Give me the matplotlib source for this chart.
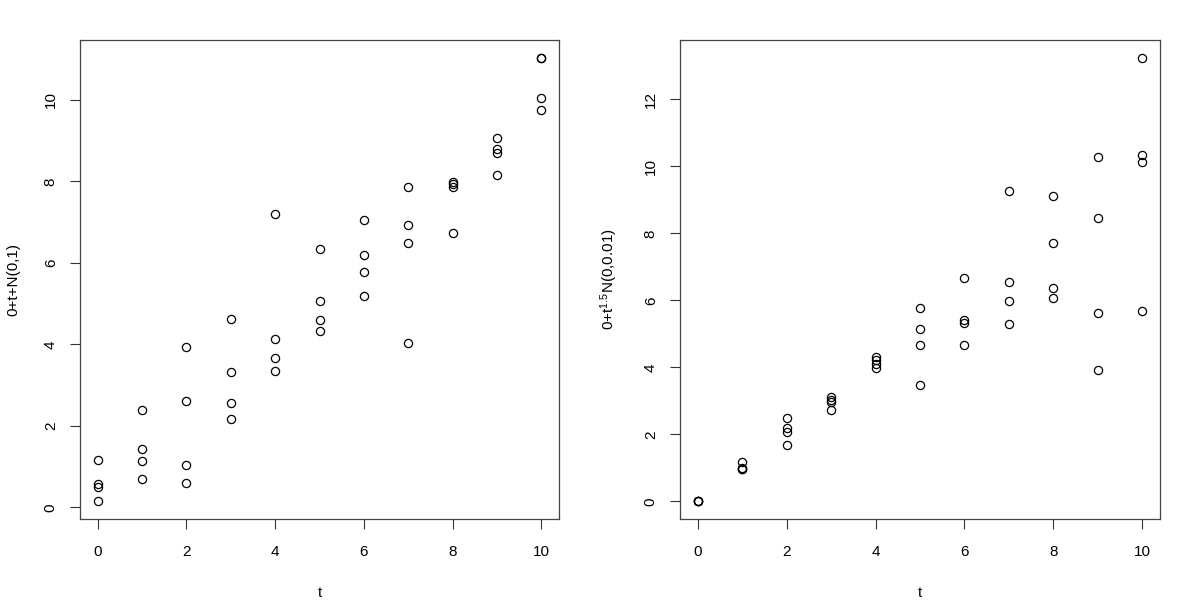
import matplotlib
matplotlib.use("Agg")
import matplotlib.pyplot as plt
import numpy as np

plt.rcParams['font.family'] = ['Liberation Sans', 'DejaVu Sans']
plt.rcParams['mathtext.default'] = 'regular'

t_values = [0, 1, 2, 3, 4, 5, 6, 7, 8, 9, 10]

# Left panel: 0 + t + N(0,1), four draws per t
y_left = [
    [1.15, 0.58, 0.51, 0.15],
    [2.38, 1.42, 1.13, 0.69],
    [3.93, 2.60, 1.04, 0.60],
    [4.61, 3.32, 2.55, 2.18],
    [7.19, 4.13, 3.66, 3.35],
    [6.34, 5.07, 4.60, 4.32],
    [7.06, 6.19, 5.78, 5.18],
    [7.87, 6.92, 6.48, 4.03],
    [7.99, 7.93, 7.87, 6.74],
    [9.06, 8.79, 8.70, 8.15],
    [11.03, 11.02, 10.05, 9.75],
]

# Right panel: 0 + t^1.5 N(0,0.01), four draws per t
y_right = [
    [0.0, 0.0, 0.0, 0.0],
    [1.17, 1.00, 0.97, 0.95],
    [2.48, 2.19, 2.07, 1.69],
    [3.10, 3.03, 2.96, 2.71],
    [4.31, 4.21, 4.11, 3.99],
    [5.76, 5.15, 4.67, 3.47],
    [6.66, 5.42, 5.32, 4.67],
    [9.25, 6.55, 5.99, 5.28],
    [9.11, 7.71, 6.36, 6.06],
    [10.28, 8.47, 5.63, 3.92],
    [13.24, 10.33, 10.13, 5.67],
]

x_ticks = [0, 2, 4, 6, 8, 10]
y_ticks_left = [0, 2, 4, 6, 8, 10]
y_ticks_right = [0, 2, 4, 6, 8, 10, 12]

fig = plt.figure(figsize=(12, 6), dpi=100)
ax1 = fig.add_axes([80/1200, 1 - 519/600, 479/1200, 479/600])
ax2 = fig.add_axes([680/1200, 1 - 519/600, 480/1200, 479/600])

def r_lim(vals):
    lo, hi = min(vals), max(vals)
    d = (hi - lo) * 0.04
    return lo - d, hi + d

def draw(ax, ys, yticks, ylabel):
    xs = []
    yv = []
    for t, row in zip(t_values, ys):
        for v in row:
            xs.append(t)
            yv.append(v)
    ax.plot(xs, yv, linestyle='none', marker='o', markersize=5.9,
            markerfacecolor='none', markeredgecolor='black', markeredgewidth=0.9)
    ax.set_xlim(*r_lim(xs))
    ax.set_ylim(*r_lim(yv))
    ax.set_xticks(x_ticks)
    ax.set_yticks(yticks)
    ax.tick_params(direction='out', length=7, width=0.8, color='#333333',
                   labelsize=11)
    ax.tick_params(axis='x', pad=12)
    ax.tick_params(axis='y', pad=9)
    for lbl in ax.get_yticklabels():
        lbl.set_rotation(90)
        lbl.set_va('center')
    for s in ax.spines.values():
        s.set_linewidth(0.9)
        s.set_color('#444444')
    ax.set_xlabel('t', fontsize=11, labelpad=19)
    ax.set_ylabel(ylabel, fontsize=11, labelpad=17)

draw(ax1, y_left, y_ticks_left, '0+t+N(0,1)')
draw(ax2, y_right, y_ticks_right, r'0+t$^{1.5}$N(0,0.01)')

fig.savefig('out.png', dpi=100)
